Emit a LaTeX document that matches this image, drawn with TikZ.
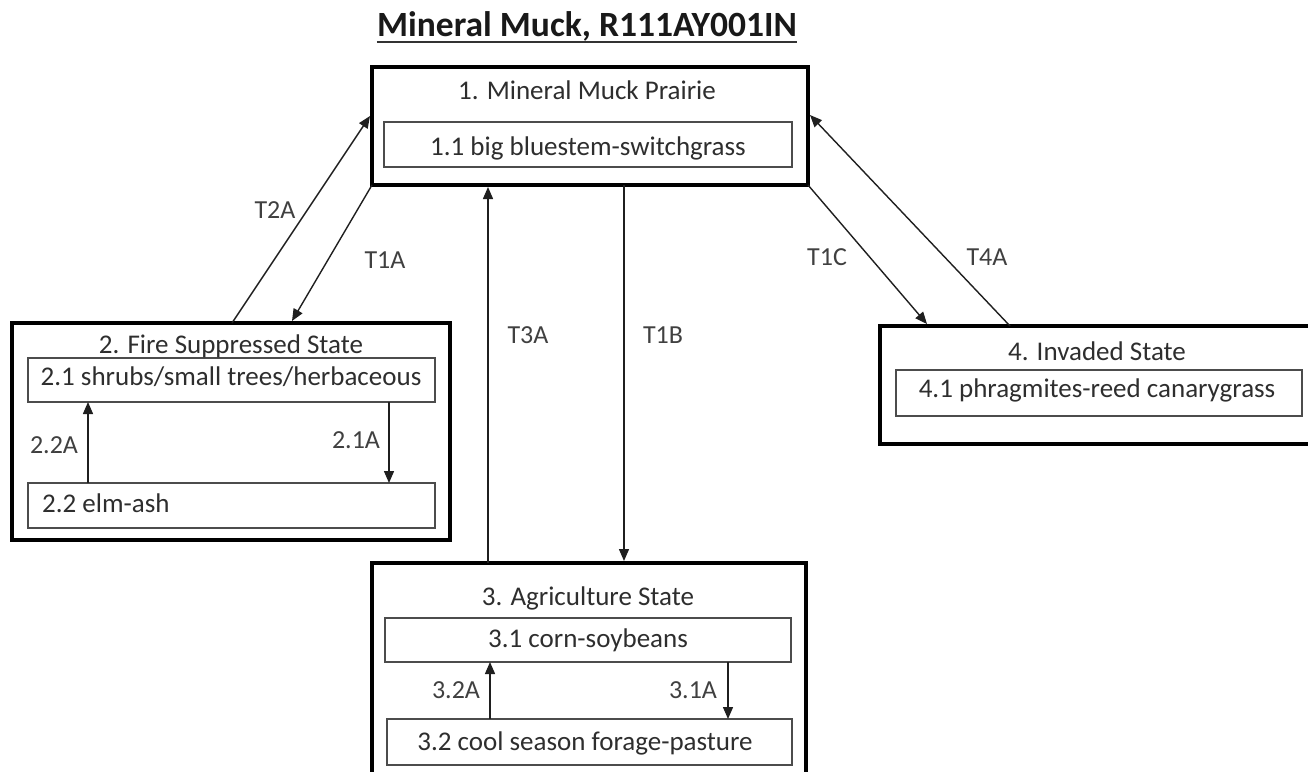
\documentclass[tikz,border=0pt]{standalone}
\usepackage{fontspec}
\setmainfont{Carlito}
\usetikzlibrary{arrows.meta,calc}
\begin{document}
\begin{tikzpicture}[x=1pt,y=-1pt,
  outerbox/.style={draw=black, line width=3.4pt, inner sep=0pt, outer sep=0pt},
  innerbox/.style={draw=black!70, line width=1.3pt, inner sep=0pt, outer sep=0pt},
  txt/.style={font=\fontsize{27}{31}\selectfont, text=black!82, inner sep=0pt},
  ttl/.style={font=\fontsize{35.5}{40}\selectfont\bfseries, text=black!90, inner sep=0pt},
  conn/.style={line width=1.4pt, draw=black!88, -{Triangle[length=12pt,width=10pt]}},
  lab/.style={font=\fontsize{26}{30}\selectfont, text=black!75, inner sep=0pt}]
\useasboundingbox (0,0) rectangle (1308,771);
\fill[white] (0,0) rectangle (1308,771);
\clip (0,0) rectangle (1308,771);
% title
\node[ttl, anchor=base] (title) at (587,36) {Mineral Muck, R111AY001IN};
\draw[line width=2pt, black!80] ($(title.base west)+(0,6)$) -- ($(title.base east)+(0,6)$);
% state boxes
\node[outerbox, minimum width=436pt, minimum height=118pt] (s1) at (590,126) {};
\node[outerbox, minimum width=438pt, minimum height=217pt] (s2) at (231,431.5) {};
\node[outerbox, minimum width=434pt, minimum height=230pt] (s3) at (589,678) {};
\node[outerbox, minimum width=450pt, minimum height=118pt] (s4) at (1105,385) {};
% community boxes
\node[innerbox, minimum width=408pt, minimum height=45pt] (i11) at (588,144.5) {};
\node[innerbox, minimum width=407pt, minimum height=44pt] (i21) at (231.5,380) {};
\node[innerbox, minimum width=407pt, minimum height=45pt] (i22) at (231.5,505.5) {};
\node[innerbox, minimum width=406pt, minimum height=44pt] (i31) at (588,640) {};
\node[innerbox, minimum width=405pt, minimum height=46pt] (i32) at (589.5,742) {};
\node[innerbox, minimum width=406pt, minimum height=46pt] (i41) at (1099,393) {};
% texts
\node[txt, anchor=base] (t1) at (587,99) {1. Mineral Muck Prairie};
\node[txt, anchor=base] (t11) at (588,155) {1.1 big bluestem-switchgrass};
\node[txt, anchor=base] (t2) at (231,353) {2. Fire Suppressed State};
\node[txt, anchor=base] (t21) at (231,385) {2.1 shrubs/small trees/herbaceous};
\node[txt, anchor=base west] (t22) at (42,512) {2.2 elm-ash};
\node[txt, anchor=base] (t3) at (588,605) {3. Agriculture State};
\node[txt, anchor=base] (t31) at (588,647) {3.1 corn-soybeans};
\node[txt, anchor=base] (t32) at (585,750) {3.2 cool season forage-pasture};
\node[txt, anchor=base] (t4) at (1097,360) {4. Invaded State};
\node[txt, anchor=base] (t41) at (1097,397) {4.1 phragmites-reed canarygrass};
% transitions between states
\draw[conn] ($(s2.north west)+(220,0)$) -- ($(s1.north west)+(-2,49)$);
\draw[conn] (s1.south west) -- ($(s2.north west)+(280,-2)$);
\draw[conn] ($(s3.north west)+(116,0)$) -- ($(s1.south west)+(116,2)$);
\draw[conn] ($(s1.south west)+(252,0)$) -- ($(s3.north west)+(252,-2)$);
\draw[conn] (s1.south east) -- ($(s4.north west)+(47,-2)$);
\draw[conn] ($(s4.north west)+(130,0)$) -- ($(s1.north east)+(2,48)$);
% community pathways
\draw[conn] ($(i22.north west)+(60,0)$) -- ($(i21.south west)+(60,0)$);
\draw[conn] ($(i21.south west)+(361,0)$) -- ($(i22.north west)+(361,0)$);
\draw[conn] ($(i32.north west)+(103,0)$) -- ($(i31.south west)+(105,0)$);
\draw[conn] ($(i31.south west)+(343,0)$) -- ($(i32.north west)+(341,0)$);
% labels
\node[lab] (lT2A) at (275,210) {T2A};
\node[lab] (lT1A) at (385,260) {T1A};
\node[lab] (lT3A) at (528,335) {T3A};
\node[lab] (lT1B) at (663,335) {T1B};
\node[lab] (lT1C) at (827,257) {T1C};
\node[lab] (lT4A) at (987,257) {T4A};
\node[lab] (l22A) at (54,445) {2.2A};
\node[lab] (l21A) at (356,440) {2.1A};
\node[lab] (l32A) at (456,690) {3.2A};
\node[lab] (l31A) at (693,690) {3.1A};
\end{tikzpicture}
\end{document}
